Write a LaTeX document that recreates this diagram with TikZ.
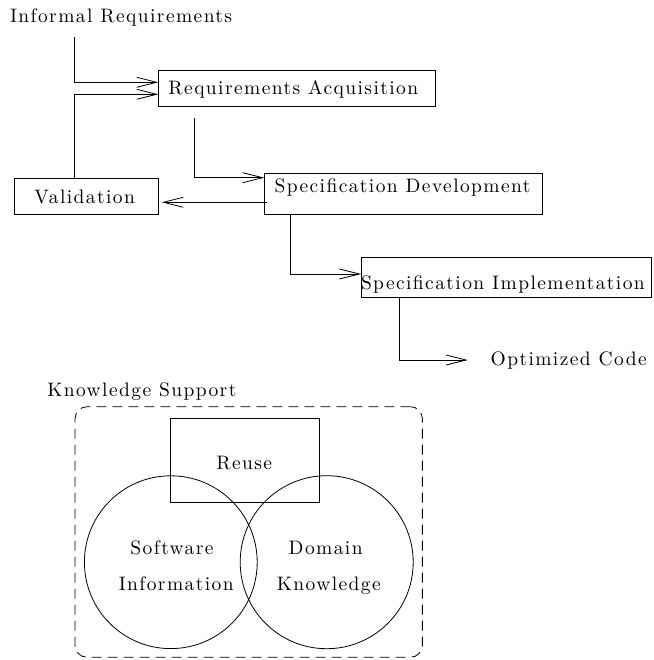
\documentclass[tikz,border=0pt]{standalone}
\usepackage{fontspec}
\setmainfont{lmroman10-regular.otf}[LetterSpace=7.2]
\usetikzlibrary{arrows.meta,calc}
\begin{document}
\begin{tikzpicture}[x=1pt,y=-1pt,
  every node/.style={inner sep=0pt,outer sep=0pt},
  box/.style={draw,line width=0.8pt,rectangle},
  txt/.style={font=\fontsize{19.5}{23}\selectfont},
  conn/.style={line width=0.8pt},
  arr/.style={conn,-{Straight Barb[length=20pt,width=10pt,line width=0.8pt]}}]
\useasboundingbox (0,0) rectangle (653,660);
% text labels
\node[txt,anchor=base west] (inf) at (10,22.7) {Informal Requirements};
\node[txt,anchor=base west] (opt) at (490.7,365) {Optimized Code};
\node[txt,anchor=base west] (ks) at (47.3,396.7) {Knowledge Support};
% boxes
\node[box,minimum width=276.7pt,minimum height=36pt] (ra) at (296.7,88) {};
\node[txt,anchor=base] (rat) at (293.3,94.3) {Requirements Acquisition};
\node[box,minimum width=144.4pt,minimum height=35.7pt] (val) at (86.5,196.2) {};
\node[txt,anchor=base] (valt) at (84.7,203.3) {Validation};
\node[box,minimum width=278.4pt,minimum height=40.7pt] (sd) at (403.5,193.7) {};
\node[txt,anchor=base] (sdt) at (402.5,192.3) {Specification Development};
\node[box,minimum width=290pt,minimum height=40.4pt] (si) at (506,277.5) {};
\node[txt,anchor=base west] (sit) at (361,289.3) {Specification Implementation};
% knowledge support
\node[draw,line width=0.8pt,dash pattern=on 10pt off 6pt,rounded corners=12pt,
      minimum width=347.3pt,minimum height=250.6pt] (ksbox) at (248.7,532) {};
\node[box,minimum width=148.6pt,minimum height=84pt] (reuse) at (245,460.3) {};
\node[txt,anchor=base] (reuset) at (244.2,469.3) {Reuse};
\node[draw,line width=0.8pt,circle,minimum size=172.8pt] (sw) at (170.8,562.2) {};
\node[draw,line width=0.8pt,circle,minimum size=173pt] (dk) at (326.7,562.2) {};
\node[txt,anchor=base] (swt1) at (172,554.3) {Software};
\node[txt,anchor=base] (swt2) at (176.2,590) {Information};
\node[txt,anchor=base] (dkt1) at (325.7,554.3) {Domain};
\node[txt,anchor=base] (dkt2) at (328.8,590) {Knowledge};
% connectors
\coordinate (c1) at (74.3,37);
\coordinate (c3) at (194.7,118.3);
\draw[arr] (c1) |- ($(ra.west)+(0,-5.7)$);
\draw[arr] ($(val.north west)+(60,0)$) |- ($(ra.west)+(0,6.3)$);
\draw[arr] (c3) |- ($(sd.west)+(0,-16)$);
\draw[arr,shorten >=3pt] ($(sd.west)+(2.4,8.6)$) -- ($(val.east)+(0,6.1)$);
\draw[arr] ($(sd.south west)+(26.4,0)$) |- ($(si.west)+(0,-3.5)$);
\draw[arr,shorten >=23pt] ($(si.south west)+(38.3,0)$) |- (opt.west);
\end{tikzpicture}
\end{document}
